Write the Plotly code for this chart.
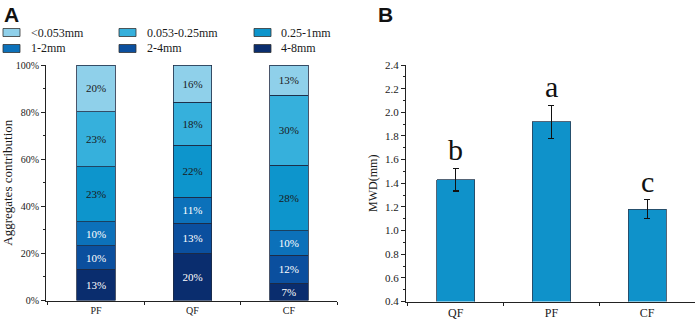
import plotly.graph_objects as go

W, H = 699, 323

# ---- Panel A data ----
sites_a = ["PF", "QF", "CF"]
size_classes = ["4-8mm", "2-4mm", "1-2mm", "0.25-1mm", "0.053-0.25mm", "<0.053mm"]
v_4_8 = [13.2, 20.0, 7.4]
v_2_4 = [10.0, 12.8, 11.9]
v_1_2 = [10.2, 11.0, 10.3]
v_025_1 = [23.4, 22.2, 27.9]
v_0053_025 = [23.3, 18.2, 29.7]
v_lt0053 = [19.9, 15.8, 12.8]
values_a = [v_4_8, v_2_4, v_1_2, v_025_1, v_0053_025, v_lt0053]
colors_a = ["#0a2d6e", "#0b4f9e", "#0c71ba", "#0d95cc", "#36b0dc", "#8fd0ea"]
text_colors = ["white", "white", "white", "#1a1a1a", "#1a1a1a", "#1a1a1a"]

# ---- Panel B data ----
sites_b = ["QF", "PF", "CF"]
mwd = [1.43, 1.92, 1.18]
mwd_err = [0.095, 0.14, 0.08]
letters = ["b", "a", "c"]

SERIF = "Liberation Serif, Times New Roman, serif"


def px_x(x):
    return x / W


def px_y(y):
    return 1 - y / H


fig = go.Figure()

for name, vals, col, tc in zip(size_classes, values_a, colors_a, text_colors):
    fig.add_trace(go.Bar(
        x=sites_a, y=vals, name=name, xaxis="x", yaxis="y",
        marker=dict(color=col, line=dict(color="#1d2a45", width=0.8)),
        width=0.4,
        text=vals, texttemplate="%{y:.0f}%", textposition="inside",
        insidetextanchor="middle", textangle=0, constraintext="none",
        textfont=dict(family=SERIF, size=11, color=tc),
        showlegend=False, hoverinfo="skip",
    ))

fig.add_trace(go.Bar(
    x=sites_b, y=mwd, xaxis="x2", yaxis="y2", base=0,
    marker=dict(color="#0f92ca", line=dict(color="#2b3f55", width=0.8)),
    width=0.4,
    error_y=dict(type="data", array=mwd_err, color="#111111", thickness=1.2, width=3),
    showlegend=False, hoverinfo="skip",
))

axis_common = dict(showline=True, linecolor="#222222", linewidth=1, showgrid=False,
                   zeroline=False, ticks="outside", tickcolor="#222222", automargin=False)

fig.update_layout(
    width=W, height=H, barmode="stack",
    margin=dict(l=0, r=0, t=0, b=0, autoexpand=False),
    paper_bgcolor="white", plot_bgcolor="white",
    font=dict(family=SERIF, color="#1a1a1a"),
    xaxis=dict(domain=[px_x(46), px_x(337)], range=[-0.52, 2.5], anchor="y",
               tickson="boundaries", ticklen=3,
               tickfont=dict(family=SERIF, size=10), **axis_common),
    yaxis=dict(domain=[px_y(300.5), px_y(65)], range=[0, 100], anchor="x",
               tickvals=[0, 20, 40, 60, 80, 100], ticktext=["0%", "20%", "40%", "60%", "80%", "100%"],
               ticklen=4, tickfont=dict(family=SERIF, size=10),
               minor=dict(ticks="outside", ticklen=2, dtick=10, tickcolor="#222222"),
               title=dict(text="Aggregates contribution", font=dict(family=SERIF, size=13), standoff=5),
               **axis_common),
    xaxis2=dict(domain=[px_x(406), px_x(695)], range=[-0.52, 2.5], anchor="y2",
                tickson="boundaries", ticklen=3,
                tickfont=dict(family=SERIF, size=12), **axis_common),
    yaxis2=dict(domain=[px_y(301.5), px_y(65)], range=[0.4, 2.4], anchor="x2",
                dtick=0.2, tickformat=".1f", ticklen=4,
                tickfont=dict(family=SERIF, size=11),
                minor=dict(ticks="outside", ticklen=2, dtick=0.1, tickcolor="#222222"),
                title=dict(text="MWD(mm)", font=dict(family=SERIF, size=12), standoff=4),
                **axis_common),
)

# significance letters above error bars
for s, v, e, L in zip(sites_b, mwd, mwd_err, letters):
    fig.add_annotation(x=s, y=v + e, xref="x2", yref="y2", text=L, showarrow=False,
                       yanchor="bottom", yshift=0,
                       font=dict(family=SERIF, size=30, color="#111111"))

# panel labels
fig.add_annotation(x=px_x(2), y=px_y(14), xref="paper", yref="paper", text="<b>A</b>",
                   showarrow=False, xanchor="left", yanchor="middle",
                   font=dict(family="Liberation Sans, Arial, sans-serif", size=21, color="#111111"))
fig.add_annotation(x=px_x(376), y=px_y(14), xref="paper", yref="paper", text="<b>B</b>",
                   showarrow=False, xanchor="left", yanchor="middle",
                   font=dict(family="Liberation Sans, Arial, sans-serif", size=21, color="#111111"))

# manual legend
legend_order = ["<0.053mm", "0.053-0.25mm", "0.25-1mm", "1-2mm", "2-4mm", "4-8mm"]
col_sw = [3, 119, 254]
col_tx = [29, 145, 279]
row_y = [32.5, 48.5]
for i, name in enumerate(legend_order):
    r, c = divmod(i, 3)
    col = colors_a[size_classes.index(name)]
    x0 = col_sw[c]
    yc = row_y[r]
    fig.add_shape(type="rect", xref="paper", yref="paper",
                  x0=px_x(x0), x1=px_x(x0 + 17), y0=px_y(yc + 4), y1=px_y(yc - 4),
                  fillcolor=col, line=dict(color="#333333", width=0.8))
    fig.add_annotation(x=px_x(col_tx[c]), y=px_y(yc), xref="paper", yref="paper", text=name,
                       showarrow=False, xanchor="left", yanchor="middle",
                       font=dict(family=SERIF, size=12, color="#1a1a1a"))

fig.write_html("out.html", config={"displayModeBar": False},
               post_script="document.body.style.margin='0px';")
